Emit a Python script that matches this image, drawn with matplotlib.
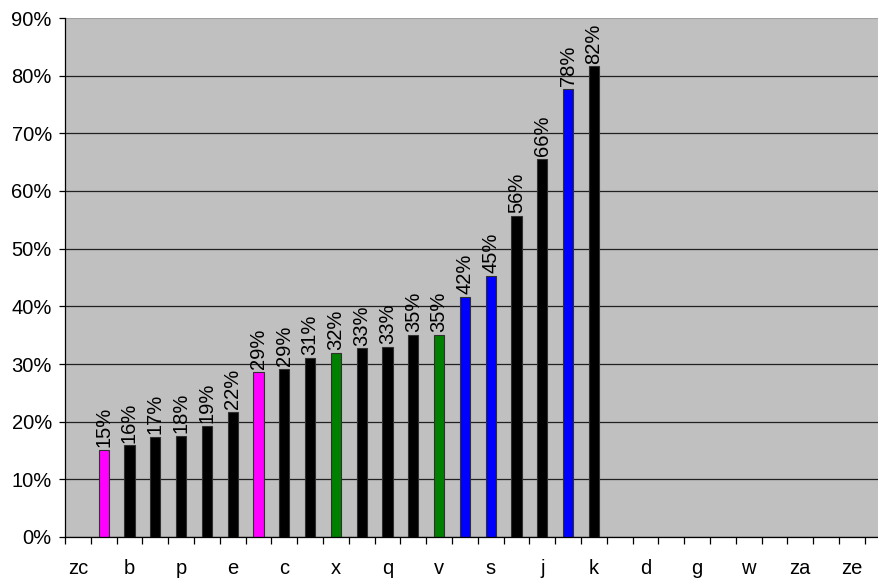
import numpy as np
import matplotlib
matplotlib.use("Agg")
import matplotlib.pyplot as plt
from matplotlib.ticker import FixedLocator, PercentFormatter

plt.rcParams['font.family'] = ['Liberation Sans', 'DejaVu Sans']

# every other category is labelled on the axis
shown_labels = ['zc', 'b', 'p', 'e', 'c', 'x', 'q', 'v', 's', 'j', 'k',
                'd', 'g', 'w', 'za', 'ze']
n_categories = 32

# bars sit in categories 1..20
bar_values = [15.1, 15.9, 17.4, 17.6, 19.3, 21.7, 28.6, 29.2, 31.1, 31.9,
              32.7, 32.9, 35.0, 35.1, 41.6, 45.3, 55.7, 65.6, 77.7, 81.6]
bar_colors = ['#FF00FF', 'black', 'black', 'black', 'black', 'black',
              '#FF00FF', 'black', 'black', 'green', 'black', 'black',
              'black', 'green', 'blue', 'blue', 'black', 'black', 'blue',
              'black']

fig = plt.figure(figsize=(8.79, 5.8), dpi=100)
ax = fig.add_axes([65 / 879, 43 / 580, 1 - 65 / 879, 519 / 580])
ax.set_facecolor('#C0C0C0')

pos = np.arange(1, len(bar_values) + 1)
bars = ax.bar(pos, bar_values, width=0.4, color=bar_colors,
              edgecolor='#303030', linewidth=0.8, zorder=3)

for b, v in zip(bars, bar_values):
    ax.annotate(f'{round(v)}%', (b.get_x() + b.get_width() / 2, v),
                xytext=(0, 2), textcoords='offset points',
                rotation=90, ha='center', va='bottom', fontsize=14.5,
                zorder=4, annotation_clip=False)

ax.set_ylim(0, 90)
ax.set_xlim(-0.5, -0.5 + 814 / 25.8)
ax.set_yticks(np.arange(0, 91, 10))
ax.yaxis.set_major_formatter(PercentFormatter(decimals=0))
ax.grid(axis='y', color='#202020', linewidth=0.9, zorder=1)
ax.get_ygridlines()[-1].set_color('#A0A0A0')
ax.get_ygridlines()[-1].set_linewidth(1.5)

ax.xaxis.set_major_locator(FixedLocator(np.arange(0, n_categories, 2)))
ax.set_xticklabels(shown_labels)
ax.xaxis.set_minor_locator(FixedLocator(np.arange(-0.5, n_categories, 1)))
ax.tick_params(axis='x', which='major', length=0, pad=16, labelsize=14.5)
ax.tick_params(axis='x', which='minor', length=5, width=0.9, direction='out')
ax.tick_params(axis='y', length=4, width=0.9, labelsize=14.5, pad=5.5)

for s in ['top', 'right']:
    ax.spines[s].set_visible(False)
ax.spines['left'].set_linewidth(0.9)
ax.spines['bottom'].set_linewidth(0.9)
ax.spines['bottom'].set_zorder(5)

fig.savefig('out.png', dpi=100)
